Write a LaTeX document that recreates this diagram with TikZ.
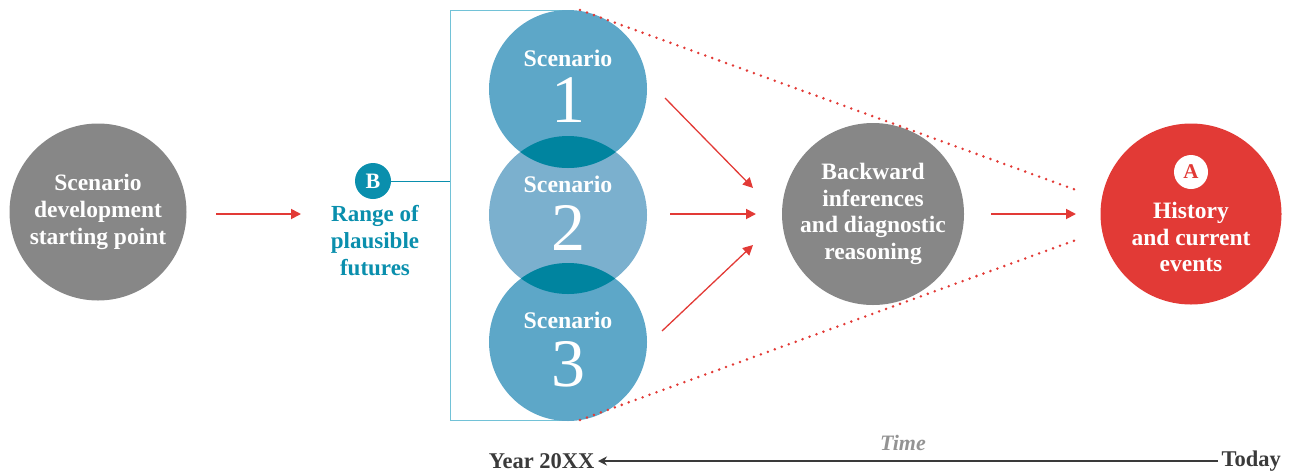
\documentclass[tikz,border=0pt]{standalone}
\usepackage{fontspec}
\setmainfont{Liberation Serif}
\usetikzlibrary{arrows.meta}
\definecolor{cgray}{HTML}{878787}
\definecolor{cred}{HTML}{E23A36}
\definecolor{cteal}{HTML}{0A8FAD}
\definecolor{cbracket}{HTML}{72C2D7}
\definecolor{cblueA}{HTML}{5DA7C8}
\definecolor{cblueB}{HTML}{7BB0CE}
\definecolor{coverlap}{HTML}{00849F}
\definecolor{caxis}{HTML}{3A3A3A}
\definecolor{ctime}{HTML}{939393}
\tikzset{
  bigcircle/.style={circle, inner sep=0pt, minimum size=#1},
  whitetext/.style={text=white, align=center, font=\fontsize{23.5}{26.6}\selectfont\bfseries},
  scenlabel/.style={text=white, font=\fontsize{23.8}{26}\selectfont\bfseries},
  numeral/.style={text=white, font=\fontsize{68}{68}\selectfont},
  redarrow/.style={draw=cred, line width=1.8pt, -{Triangle[length=10pt,width=10pt]}},
  reddiag/.style={draw=cred, line width=1.3pt, -{Triangle[length=10pt,width=10pt]}},
  reddots/.style={draw=cred, line width=2.8pt, line cap=round, dash pattern=on 0pt off 7.4pt},
}
\begin{document}
\begin{tikzpicture}[x=1pt,y=-1pt]
\useasboundingbox (0,0) rectangle (1297,472);

% left circle
\node[bigcircle=177pt, fill=cgray, whitetext] (start) at (98,212) {Scenario\\development\\starting point};

% B badge and label
\node[circle, fill=cteal, inner sep=0pt, minimum size=36pt, text=white, font=\fontsize{22}{22}\selectfont\bfseries] (B) at (373,181) {B};
\node[text=cteal, align=center, font=\fontsize{23}{27}\selectfont\bfseries] (range) at (375,241) {Range of\\plausible\\futures};

% bracket
\coordinate (brT) at (568,10);
\coordinate (brTL) at (450,10);
\coordinate (brBL) at (450,420);
\coordinate (brB) at (568,420);
\coordinate (brM) at (450,181);
\draw[cbracket, line width=1pt] (brT) -- (brTL) -- (brBL) -- (brB);
\draw[cteal, line width=1pt] (B.east) -- (brM);

% scenario circles
\coordinate (c1) at (568,89);
\coordinate (c2) at (568,215);
\coordinate (c3) at (568,342);
\fill[cblueB] (c2) circle (79pt);
\fill[cblueA] (c1) circle (79pt);
\fill[cblueA] (c3) circle (79pt);
\begin{scope}
  \clip (c1) circle (79pt);
  \fill[coverlap] (c2) circle (79pt);
\end{scope}
\begin{scope}
  \clip (c3) circle (79pt);
  \fill[coverlap] (c2) circle (79pt);
\end{scope}
\node[bigcircle=158pt] (s1) at (c1) {};
\node[bigcircle=158pt] (s2) at (c2) {};
\node[bigcircle=158pt] (s3) at (c3) {};

\node[scenlabel] (s1l) at (568,58) {Scenario};
\node[numeral] (s1n) at (568,100) {1};
\node[scenlabel] (s2l) at (568,184) {Scenario};
\node[numeral] (s2n) at (568,228) {2};
\node[scenlabel] (s3l) at (568,320) {Scenario};
\node[numeral] (s3n) at (568,364) {3};

% backward circle
\node[bigcircle=182pt, fill=cgray, whitetext] (back) at (873,214) {Backward\\inferences\\and diagnostic\\reasoning};

% history circle
\node[bigcircle=181pt, fill=cred] (hist) at (1191,214) {};
\node[circle, fill=white, inner sep=0pt, minimum size=34pt, text=cred, font=\fontsize{21}{21}\selectfont\bfseries] (A) at (1191,172) {A};
\node[whitetext] (histt) at (1191,237) {History\\and current\\events};

% arrows
\coordinate (a0s) at (216,214);
\coordinate (a0e) at (301,214);
\draw[redarrow] (a0s) -- (a0e);
\coordinate (a1s) at (665,98);
\coordinate (a1e) at (753,188);
\draw[reddiag] (a1s) -- (a1e);
\coordinate (a2s) at (670,214);
\coordinate (a2e) at (756,214);
\draw[redarrow] (a2s) -- (a2e);
\coordinate (a3s) at (662,331);
\coordinate (a3e) at (753,245);
\draw[reddiag] (a3s) -- (a3e);
\coordinate (a4s) at (991,214);
\coordinate (a4e) at (1076,214);
\draw[redarrow] (a4s) -- (a4e);

% dotted funnel
\coordinate (dT0) at (580,10);
\coordinate (dT1) at (1076,190);
\coordinate (dB0) at (580,420);
\coordinate (dB1) at (1076,240);
\draw[reddots] (dT0) -- (dT1);
\draw[reddots] (dB0) -- (dB1);

% time axis
\node[text=caxis, anchor=east, font=\fontsize{22.5}{22}\selectfont\bfseries] (year) at (598,461) {Year 20XX};
\node[text=caxis, anchor=west, font=\fontsize{22.5}{22}\selectfont\bfseries] (today) at (1218,461) {Today};
\node[text=ctime, font=\fontsize{22}{22}\selectfont\bfseries\itshape] (time) at (903,443) {Time};
\draw[caxis, line width=2pt, -{Stealth[length=9pt,width=9pt]}] (today.west) -- (year.east);
\end{tikzpicture}
\end{document}
